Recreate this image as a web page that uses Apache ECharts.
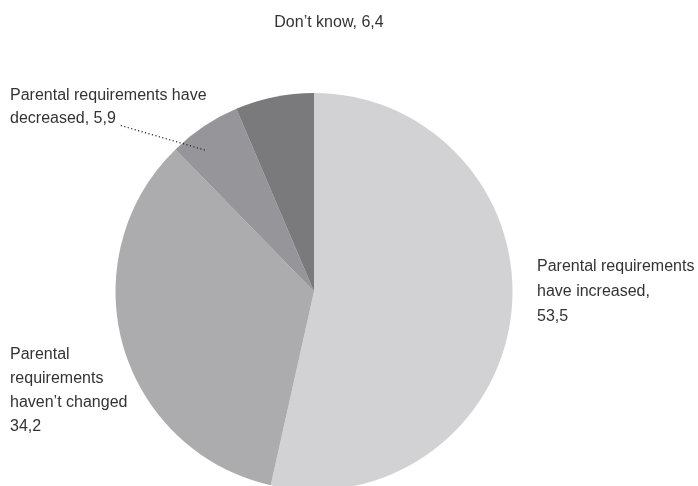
<!DOCTYPE html>
<html>
<head>
<meta charset="utf-8">
<script src="https://cdn.jsdelivr.net/npm/echarts@6/dist/echarts.min.js"></script>
<style>
  html, body { margin: 0; padding: 0; background: #ffffff; }
  #chart { width: 698px; height: 486px; }
</style>
</head>
<body>
<div id="chart"></div>
<script>
// Survey answers, percentages
const categories = [
  'Parental requirements have increased',
  'Parental requirements haven\u2019t changed',
  'Parental requirements have decreased',
  'Don\u2019t know'
];
const values = [53.5, 34.2, 5.9, 6.4];
// Label text as broken over lines
const labelLines = [
  ['Parental requirements', 'have increased,'],
  ['Parental', 'requirements', 'haven\u2019t changed'],
  ['Parental requirements have', 'decreased,'],
  ['Don\u2019t know,']
];
const sliceColors = ['#d2d2d4', '#acacaf', '#96969a', '#7a7a7d'];

const fmt = v => v.toFixed(1).replace('.', ',');

// Where each label block sits (top edge, left or centre)
const labelSpots = [
  { x: 537, y: 254, align: 'left', lh: 25 },
  { x: 10, y: 343, align: 'left', lh: 24 },
  { x: 10, y: 84, align: 'left', lh: 23 },
  { x: 329, y: 11, align: 'center', lh: 23 }
];

const CX = 314, CY = 291.5, R = 198.5;

function labelText(i) {
  const lines = labelLines[i].slice();
  const v = fmt(values[i]);
  if (i === 0 || i === 1) {
    lines.push(v);
  } else {
    lines[lines.length - 1] += ' ' + v;
  }
  return lines.join('\n');
}

// point inside a slice, a little off its middle angle
function insidePoint(idx, radiusFrac, angleShiftDeg) {
  const total = values.reduce((a, b) => a + b, 0);
  let before = 0;
  for (let k = 0; k < idx; k++) before += values[k];
  const frac = (before + values[idx] / 2) / total;
  const a = (frac * 360 + angleShiftDeg) * Math.PI / 180;
  return [CX + R * radiusFrac * Math.sin(a), CY - R * radiusFrac * Math.cos(a)];
}

const chart = echarts.init(document.getElementById('chart'), null, { renderer: 'canvas' });

const pieBase = {
  type: 'pie',
  center: [CX, CY],
  radius: R,
  startAngle: 90,
  clockwise: true,
  silent: true
};

chart.setOption({
  backgroundColor: '#ffffff',
  animation: false,
  series: [
    // the slices
    Object.assign({}, pieBase, {
      z: 2,
      data: categories.map((name, i) => ({
        name: name,
        value: values[i],
        itemStyle: { color: sliceColors[i] }
      })),
      label: { show: false },
      labelLine: { show: false }
    }),
    // clear copy on top carrying the labels, so the leader sits over the wedge
    Object.assign({}, pieBase, {
      z: 5,
      data: categories.map((name, i) => ({
        name: name,
        value: values[i],
        itemStyle: { color: 'rgba(0,0,0,0)' },
        label: { lineHeight: labelSpots[i].lh },
        labelLine: { show: i === 2 }
      })),
      label: {
        show: true,
        position: 'outside',
        formatter: p => labelText(p.dataIndex),
        fontFamily: '"Liberation Sans", Arial, sans-serif',
        fontSize: 16,
        color: '#333333',
        overflow: 'none',
        width: 300
      },
      labelLine: {
        show: true,
        lineStyle: { color: '#222', width: 1.2, type: [1.2, 2.4] }
      },
      labelLayout: function (params) {
        const i = params.dataIndex;
        const s = labelSpots[i];
        const out = { x: s.x, y: s.y, align: s.align, verticalAlign: 'top' };
        if (i === 2) {
          // leader from the end of the label into the wedge
          const inner = insidePoint(2, 0.9, -4);
          const start = [s.x + 109, s.y + 41];
          out.labelLinePoints = [inner, [(inner[0] + start[0]) / 2, (inner[1] + start[1]) / 2], start];
        }
        return out;
      }
    })
  ]
});
</script>
</body>
</html>
